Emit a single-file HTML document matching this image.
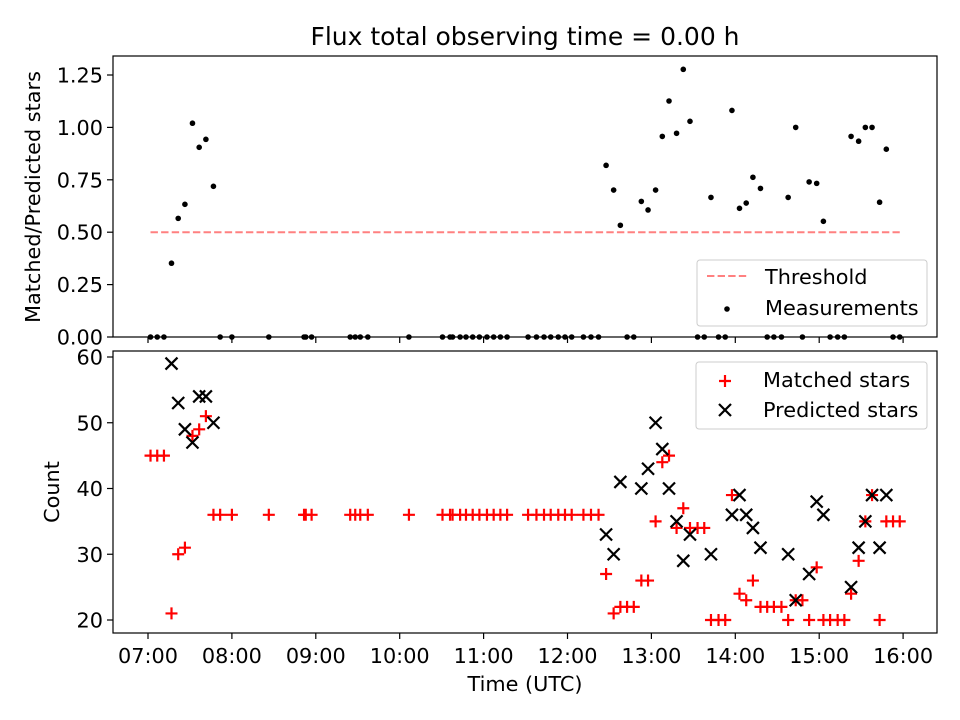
<!DOCTYPE html>
<html><head><meta charset="utf-8">
<style>
body{margin:0;background:#fff;}
svg{display:block;font-family:"DejaVu Sans","Liberation Sans",sans-serif;}
</style></head>
<body>
<svg id="chart" width="960" height="720" viewBox="0 0 960 720" xmlns="http://www.w3.org/2000/svg">
<rect width="960" height="720" fill="#fff"/>
<text x="525" y="45" font-size="25" text-anchor="middle">Flux total observing time = 0.00 h</text>
<g id="top"></g><g id="bot"></g>
</svg>
<script>
const times=[7.03,7.11,7.19,7.28,7.36,7.44,7.53,7.61,7.69,7.78,7.86,8.00,8.44,8.86,8.88,8.95,9.41,9.47,9.53,9.62,10.11,10.51,10.60,10.63,10.72,10.79,10.87,10.95,11.04,11.12,11.20,11.28,11.53,11.63,11.72,11.80,11.89,11.97,12.05,12.19,12.28,12.37,12.46,12.55,12.63,12.71,12.79,12.88,12.96,13.05,13.13,13.21,13.30,13.38,13.46,13.55,13.63,13.71,13.80,13.88,13.96,14.05,14.13,14.21,14.30,14.38,14.46,14.55,14.63,14.72,14.80,14.88,14.97,15.05,15.13,15.22,15.30,15.38,15.47,15.55,15.63,15.72,15.80,15.88,15.96];
const matched=[45,45,45,21,30,31,48,49,51,36,36,36,36,36,36,36,36,36,36,36,36,36,36,36,36,36,36,36,36,36,36,36,36,36,36,36,36,36,36,36,36,36,27,21,22,22,22,26,26,35,44,45,34,37,34,34,34,20,20,20,39,24,23,26,22,22,22,22,20,23,23,20,28,20,20,20,20,24,29,35,39,20,35,35,35];
const predicted=[null,null,null,59,53,49,47,54,54,50,null,null,null,null,null,null,null,null,null,null,null,null,null,null,null,null,null,null,null,null,null,null,null,null,null,null,null,null,null,null,null,null,33,30,41,null,null,40,43,50,46,40,35,29,33,null,null,30,null,null,36,39,36,34,31,null,null,null,30,23,null,27,38,36,null,null,null,25,31,35,39,31,39,null,null];
const ratio=[0,0,0,0.352,0.566,0.633,1.02,0.905,0.943,0.719,0,0,0,0,0,0,0,0,0,0,0,0,0,0,0,0,0,0,0,0,0,0,0,0,0,0,0,0,0,0,0,0,0.819,0.701,0.533,0,0,0.647,0.606,0.701,0.957,1.126,0.972,1.277,1.029,0,0,0.666,0,0,1.081,0.614,0.639,0.762,0.709,0,0,0,0.666,1.0,0,0.740,0.733,0.552,0,0,0,0.957,0.934,1.0,1.0,0.643,0.896,0,0];
const threshold=0.5;
const xTicks=[7,8,9,10,11,12,13,14,15,16];
const xTickLabels=["07:00","08:00","09:00","10:00","11:00","12:00","13:00","14:00","15:00","16:00"];
const topTicks=[0,0.25,0.5,0.75,1.0,1.25];
const topTickLabels=["0.00","0.25","0.50","0.75","1.00","1.25"];
const botTicks=[20,30,40,50,60];
const botTickLabels=["20","30","40","50","60"];

const NS="http://www.w3.org/2000/svg";
const L=113,R=937;
const xS=t=>148+(t-7)*83.9;
const yTop=v=>337-v*209.6;
const yBot=v=>620-(v-20)*6.575;
function mk(tag,attrs,parent,text){const e=document.createElementNS(NS,tag);for(const k in attrs)e.setAttribute(k,attrs[k]);if(text!==undefined)e.textContent=text;parent.appendChild(e);return e;}
const gT=document.getElementById('top'),gB=document.getElementById('bot');

let th=mk('line',{x1:xS(times[0]),x2:xS(times[times.length-1]),y1:yTop(threshold),y2:yTop(threshold),stroke:'#ff8080','stroke-width':2,'stroke-dasharray':'7.4,3.2'},gT);


times.forEach((t,i)=>{const c=mk('circle',{cx:xS(t),cy:yTop(ratio[i]),r:2.8,fill:'#000'},gT);

});
times.forEach((t,i)=>{const x=xS(t),y=yBot(matched[i]);const p=mk('path',{d:`M${x-6},${y}H${x+6}M${x},${y-6}V${y+6}`,stroke:'#f00','stroke-width':2.2,fill:'none'},gB);

});
times.forEach((t,i)=>{if(predicted[i]==null)return;const x=xS(t),y=yBot(predicted[i]);const p=mk('path',{d:`M${x-6},${y-6}L${x+6},${y+6}M${x-6},${y+6}L${x+6},${y-6}`,stroke:'#000','stroke-width':2.2,fill:'none'},gB);

});

function axes(g,top,bottom,ticks,labels,yf,showX,name){
  const r=mk('rect',{x:L,y:top,width:R-L,height:bottom-top,fill:'none',stroke:'#000','stroke-width':1.2},g);
  
  
  ticks.forEach((v,i)=>{const y=yf(v);mk('line',{x1:L-6,x2:L,y1:y,y2:y,stroke:'#000','stroke-width':1.2},g);
    const tx=mk('text',{x:L-10,y:y+7.5,'font-size':20.8,'text-anchor':'end'},g,labels[i]);
    
    });
  xTicks.forEach((v,i)=>{const x=xS(v);mk('line',{x1:x,x2:x,y1:bottom,y2:bottom+6,stroke:'#000','stroke-width':1.2},g);
    if(showX){const tx=mk('text',{x:x,y:bottom+30,'font-size':20.8,'text-anchor':'middle'},g,xTickLabels[i]);
    
    }});
}
axes(gT,56,337,topTicks,topTickLabels,yTop,false,'top');
axes(gB,351,633,botTicks,botTickLabels,yBot,true,'bottom');
</script>
<svg style="position:absolute;left:0;top:0" width="960" height="720">
<text transform="translate(40,197) rotate(-90)" font-size="20.8" text-anchor="middle" font-family="DejaVu Sans, Liberation Sans, sans-serif">Matched/Predicted stars</text>
<text transform="translate(59,492) rotate(-90)" font-size="20.8" text-anchor="middle" font-family="DejaVu Sans, Liberation Sans, sans-serif">Count</text>
<text x="525" y="691" font-size="20.8" text-anchor="middle" font-family="DejaVu Sans, Liberation Sans, sans-serif">Time (UTC)</text>
<g font-family="DejaVu Sans, Liberation Sans, sans-serif" font-size="20.8">
<rect x="697" y="260" width="230" height="66" rx="3" fill="#fff" fill-opacity="0.8" stroke="#ccc"/>
<line x1="707" x2="748" y1="276" y2="276" stroke="#ff8080" stroke-width="2" stroke-dasharray="7.4,3.2"/>
<text x="765" y="284">Threshold</text>
<circle cx="727" cy="309" r="2.8" fill="#000"/>
<text x="765" y="315">Measurements</text>
</g>
<g font-family="DejaVu Sans, Liberation Sans, sans-serif" font-size="20.8">
<rect x="696" y="362" width="231" height="67" rx="3" fill="#fff" fill-opacity="0.8" stroke="#ccc"/>
<path d="M719,381H731M725,375V387" stroke="#f00" stroke-width="2.2"/>
<text x="763" y="387">Matched stars</text>
<path d="M719,404L731,416M719,416L731,404" stroke="#000" stroke-width="2.2"/>
<text x="763" y="417">Predicted stars</text>
</g>
</svg>
</body></html>
